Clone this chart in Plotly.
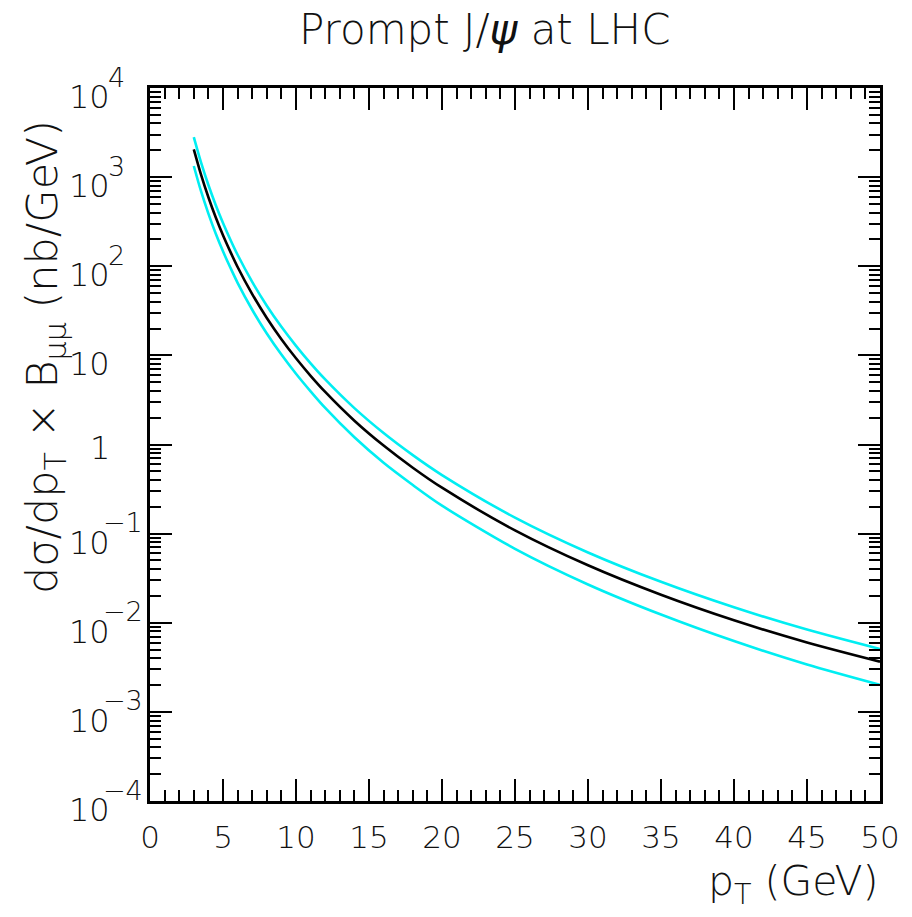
import plotly.graph_objects as go

# Transverse-momentum grid (GeV)
pt = [3, 3.5, 4, 4.5, 5, 5.5, 6, 7, 8, 9, 10, 11, 12, 14, 16, 18, 20, 25, 30, 35, 40, 45, 50]

# Central prediction and upper / lower edges of the uncertainty band (nb/GeV)
central = [2050, 1060, 595, 355, 223, 146, 98.1, 48.7, 26.3, 15.2, 9.28, 5.90, 3.89,
           1.85, 0.973, 0.549, 0.3275, 0.1088, 0.0441, 0.0206, 0.01065, 0.00601, 0.00366]
upper = [2810, 1452, 815, 487, 306, 200, 134.5, 66.8, 36.1, 20.9, 12.8, 8.14, 5.37,
         2.56, 1.345, 0.760, 0.454, 0.1513, 0.0615, 0.0288, 0.01491, 0.00838, 0.00507]
lower = [1333, 690, 390, 233, 147, 96.8, 65.2, 32.5, 17.6, 10.2, 6.22, 3.95, 2.57,
         1.205, 0.623, 0.351, 0.206, 0.0675, 0.0269, 0.01236, 0.00623, 0.00340, 0.00201]

# Decade labels on the logarithmic axis: mantissa text and exponent text
y_exponents = [4, 3, 2, 1, 0, -1, -2, -3, -4]
y_base = ["10", "10", "10", "10", "1", "10", "10", "10", "10"]
y_power = ["4", "3", "2", "", "", "−1", "−2", "−3", "−4"]

x_ticks = [0, 5, 10, 15, 20, 25, 30, 35, 40, 45, 50]

FONT = "DejaVu Sans"
INK = "#111111"
CYAN = "#00eef2"
WEIGHT = 300

fig = go.Figure()
fig.add_trace(go.Scatter(x=pt, y=upper, mode="lines",
                         line=dict(color=CYAN, width=2.6, shape="spline", smoothing=0.8),
                         showlegend=False, hoverinfo="skip"))
fig.add_trace(go.Scatter(x=pt, y=lower, mode="lines",
                         line=dict(color=CYAN, width=2.6, shape="spline", smoothing=0.8),
                         showlegend=False, hoverinfo="skip"))
fig.add_trace(go.Scatter(x=pt, y=central, mode="lines",
                         line=dict(color="black", width=2.6, shape="spline", smoothing=0.8),
                         showlegend=False))

W, H = 912, 917
L, R, T, B = 150, 25, 88, 116
plot_w = W - L - R
plot_h = H - T - B


def px_x(x_pixel):
    return (x_pixel - L) / plot_w


def px_y(y_pixel):
    return (H - B - y_pixel) / plot_h


def font(size):
    return dict(family=FONT, size=size, color=INK, weight=WEIGHT)


annotations = []
for e, base, power in zip(y_exponents, y_base, y_power):
    if base == "1":
        annotations.append(dict(x=px_x(100), xref="paper", y=e, yref="y", text=base,
                                showarrow=False, xanchor="center", yanchor="middle", yshift=-3,
                                font=font(32)))
        continue
    annotations.append(dict(x=px_x(66), xref="paper", y=e, yref="y", text=base,
                            showarrow=False, xanchor="left", yanchor="middle", yshift=-9,
                            font=font(32)))
    if power:
        annotations.append(dict(x=px_x(101 if power.startswith("−") else 106), xref="paper",
                                y=e, yref="y", text=power,
                                showarrow=False, xanchor="left", yanchor="middle", yshift=11,
                                font=font(27)))

# Axis titles and plot title
annotations.append(dict(x=1.0, xref="paper", y=px_y(884), yref="paper",
                        yanchor="middle", xanchor="right",
                        text="p<sub>T</sub> (GeV)", showarrow=False, font=font(41)))
annotations.append(dict(x=px_x(44), xref="paper", y=px_y(357), yref="paper",
                        xanchor="center", yanchor="middle", textangle=-90,
                        text="dσ/dp<sub>T</sub> × B<sub>μμ</sub> (nb/GeV)", showarrow=False,
                        font=font(43)))
annotations.append(dict(x=px_x(488), xref="paper", y=px_y(30), yref="paper",
                        xanchor="center", yanchor="middle",
                        text="Prompt J/<i>ψ</i> at LHC", showarrow=False, font=font(42)))

axis_common = dict(showgrid=False, zeroline=False, showline=True, linecolor="black", linewidth=2.6,
                   mirror="ticks", ticks="inside", tickcolor="black", tickwidth=2.2, ticklen=22)

fig.update_layout(
    width=W, height=H,
    margin=dict(l=L, r=R, t=T, b=B),
    plot_bgcolor="white", paper_bgcolor="white",
    xaxis=dict(range=[0, 50], tickvals=x_ticks, ticktext=[str(v) for v in x_ticks],
               tickfont=font(31),
               ticklabelstandoff=7,
               minor=dict(dtick=1, ticks="inside", ticklen=11, tickwidth=2.2, tickcolor="black"),
               **axis_common),
    yaxis=dict(type="log", range=[-4, 4], tickvals=[10.0 ** e for e in y_exponents],
               showticklabels=False,
               minor=dict(dtick="D1", ticks="inside", ticklen=11, tickwidth=2.2, tickcolor="black"),
               **axis_common),
    annotations=annotations,
)

fig.write_html("out.html")
